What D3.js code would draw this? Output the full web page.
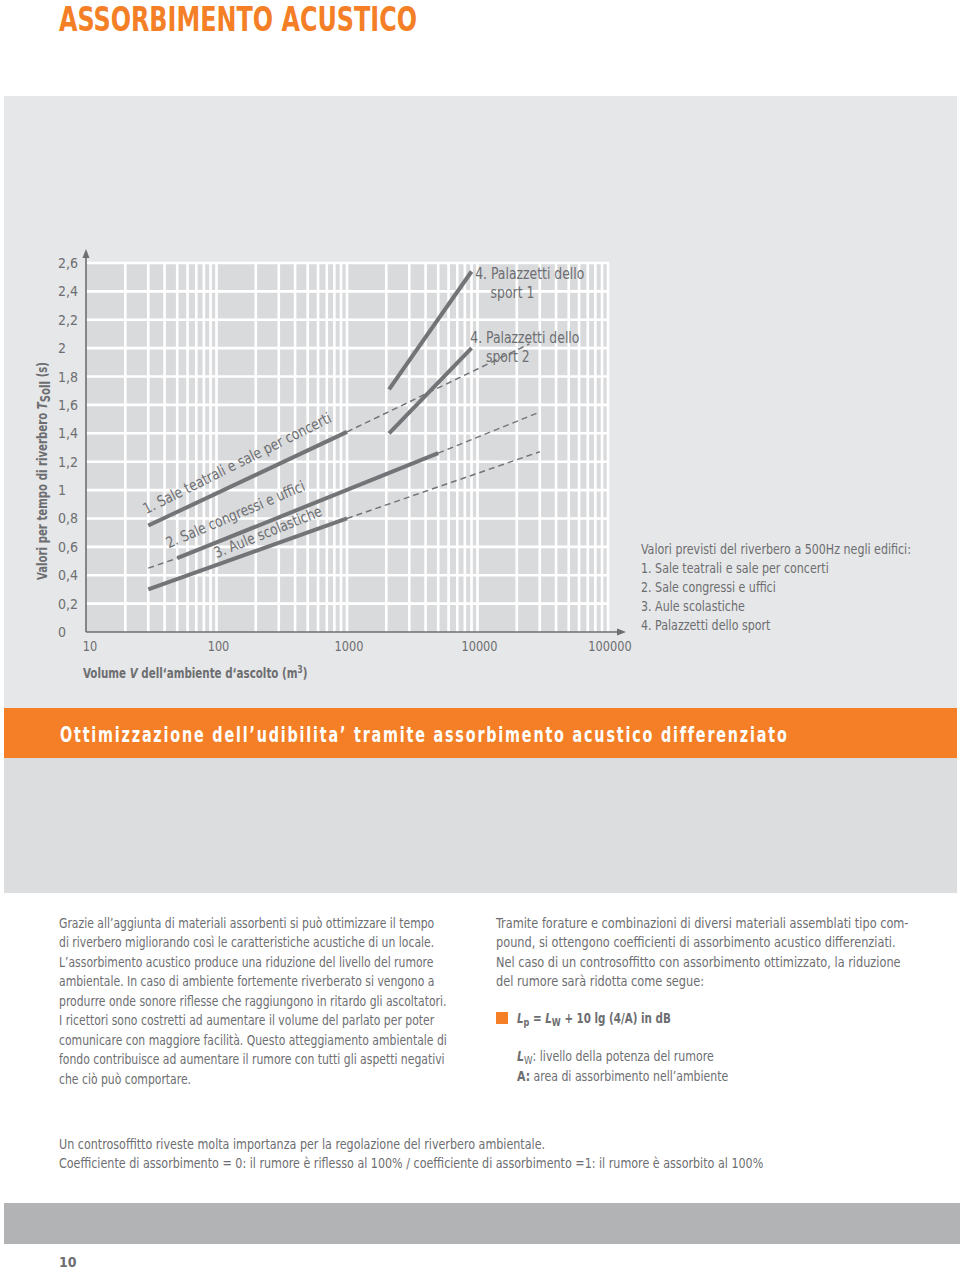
<!DOCTYPE html>
<html>
<head>
<meta charset="utf-8">
<script src="https://cdn.jsdelivr.net/npm/d3@7"></script>
<style>
  body { margin: 0; background: #fff; }
  svg { display: block; }
  text { font-family: 'Liberation Sans Narrow', 'DejaVu Sans Condensed', 'Roboto Condensed', Roboto, sans-serif; font-stretch: condensed; }
</style>
</head>
<body>
<div id="page"></div>
<script>
// chart data: [volume m3, reverberation time s]
var sale1Solid = [[30, 0.75], [1000, 1.41]];
var sale1Dashed = [[1000, 1.41], [25000, 2.03]];
var sale2Solid = [[50, 0.52], [5000, 1.26]];
var sale2DashedLow = [[30, 0.45], [50, 0.52]];
var sale2DashedHigh = [[5000, 1.26], [30000, 1.55]];
var aule3Solid = [[30, 0.30], [1000, 0.80]];
var aule3Dashed = [[1000, 0.80], [30000, 1.27]];
var sport1Solid = [[2100, 1.71], [9000, 2.54]];
var sport2Solid = [[2100, 1.40], [9000, 2.00]];

var yTicks = [0, 0.2, 0.4, 0.6, 0.8, 1, 1.2, 1.4, 1.6, 1.8, 2, 2.2, 2.4, 2.6];
var xTicks = [10, 100, 1000, 10000, 100000];

var legendLines = [
  "Valori previsti del riverbero a 500Hz negli edifici:",
  "1. Sale teatrali e sale per concerti",
  "2. Sale congressi e uffici",
  "3. Aule scolastiche",
  "4. Palazzetti dello sport"
];

var col1Lines = [
  "Grazie all\u2019aggiunta di materiali assorbenti si può ottimizzare il tempo",
  "di riverbero migliorando così le caratteristiche acustiche di un locale.",
  "L\u2019assorbimento acustico produce una riduzione del livello del rumore",
  "ambientale. In caso di ambiente fortemente riverberato si vengono a",
  "produrre onde sonore riflesse che raggiungono in ritardo gli ascoltatori.",
  "I ricettori sono costretti ad aumentare il volume del parlato per poter",
  "comunicare con maggiore facilità. Questo atteggiamento ambientale di",
  "fondo contribuisce ad aumentare il rumore con tutti gli aspetti negativi",
  "che ciò può comportare."
];

var col2Lines = [
  "Tramite forature e combinazioni di diversi materiali assemblati tipo com-",
  "pound, si ottengono coefficienti di assorbimento acustico differenziati.",
  "Nel caso di un controsoffitto con assorbimento ottimizzato, la riduzione",
  "del rumore sarà ridotta come segue:"
];

var footLines = [
  "Un controsoffitto riveste molta importanza per la regolazione del riverbero ambientale.",
  "Coefficiente di assorbimento = 0: il rumore è riflesso al 100% / coefficiente di assorbimento =1: il rumore è assorbito al 100%"
];

var grey = "#6d6e71";
var lineGrey = "#737477";
var orange = "#f47f26";

// squeeze text horizontally so the wide fallback font looks condensed
function condense(sel, k) {
  sel.each(function() {
    var w = this.getComputedTextLength();
    d3.select(this)
      .attr("textLength", w * k)
      .attr("lengthAdjust", "spacingAndGlyphs");
  });
}

// same idea for texts built from several tspans: scale the whole group
function squeezeGroup(parent, tx, ty, k, rotate) {
  var g = parent.append("g")
    .attr("transform", `translate(${tx}, ${ty})` + (rotate ? ` rotate(${rotate})` : "") + ` scale(${k}, 1)`);
  return g.append("text").attr("x", 0).attr("y", 0);
}

var svg = d3.select("#page").append("svg")
  .attr("width", 960)
  .attr("height", 1270);

// page title
svg.append("text")
  .attr("x", 59).attr("y", 31)
  .attr("fill", orange)
  .style("font-size", "33px")
  .style("font-weight", "bold")
  .attr("textLength", 358)
  .attr("lengthAdjust", "spacingAndGlyphs")
  .text("ASSORBIMENTO ACUSTICO");

// background panels
svg.append("rect").attr("x", 4).attr("y", 96).attr("width", 953).attr("height", 612).attr("fill", "#e6e7e8");
svg.append("rect").attr("x", 4).attr("y", 708).attr("width", 953).attr("height", 50).attr("fill", orange);
svg.append("rect").attr("x", 4).attr("y", 758).attr("width", 953).attr("height", 135).attr("fill", "#dcdddf");
svg.append("rect").attr("x", 4).attr("y", 1203).attr("width", 956).attr("height", 41).attr("fill", "#b1b3b5");

// scales
var x = d3.scaleLog().domain([10, 100000]).range([86, 608]);
var y = d3.scaleLinear().domain([0, 2.6]).range([632, 263]);

var chartGroup = svg.append("g");

chartGroup.append("rect")
  .attr("x", x(10)).attr("y", y(2.6))
  .attr("width", x(100000) - x(10))
  .attr("height", y(0) - y(2.6))
  .attr("fill", "#d9dadc");

// grid
chartGroup.selectAll(".vgrid")
  .data(x.ticks().filter(function(d) { return d > 10; }))
  .enter().append("line")
  .attr("class", "vgrid")
  .attr("x1", d => x(d)).attr("x2", d => x(d))
  .attr("y1", y(0)).attr("y2", y(2.6) - 1)
  .attr("stroke", "#fff")
  .attr("stroke-width", 2.6);

chartGroup.selectAll(".hgrid")
  .data(yTicks.filter(d => d > 0))
  .enter().append("line")
  .attr("class", "hgrid")
  .attr("x1", x(10)).attr("x2", x(100000) + 1)
  .attr("y1", d => y(d)).attr("y2", d => y(d))
  .attr("stroke", "#fff")
  .attr("stroke-width", 2.6);

// axes with arrows
chartGroup.append("line")
  .attr("x1", x(10)).attr("x2", x(10))
  .attr("y1", y(0)).attr("y2", 252)
  .attr("stroke", grey).attr("stroke-width", 1.6);
chartGroup.append("path")
  .attr("d", `M${x(10) - 3.5},258 L${x(10)},249 L${x(10) + 3.5},258 Z`)
  .attr("fill", grey);
chartGroup.append("line")
  .attr("x1", x(10)).attr("x2", 622)
  .attr("y1", y(0)).attr("y2", y(0))
  .attr("stroke", grey).attr("stroke-width", 1.6);
chartGroup.append("path")
  .attr("d", `M617,${y(0) - 3.5} L626,${y(0)} L617,${y(0) + 3.5} Z`)
  .attr("fill", grey);

// tick labels
chartGroup.selectAll(".ylab")
  .data(yTicks)
  .enter().append("text")
  .attr("class", "ylab")
  .attr("x", 58)
  .attr("y", d => y(d) + 5)
  .attr("fill", grey)
  .style("font-size", "14px")
  .text(d => String(+d.toFixed(1)).replace(".", ","));

var xLabels = chartGroup.selectAll(".xlab")
  .data(xTicks)
  .enter().append("text")
  .attr("class", "xlab")
  .attr("x", (d, i) => i === 0 ? x(d) + 4 : x(d) + 2)
  .attr("y", 651)
  .attr("text-anchor", "middle")
  .attr("fill", grey)
  .style("font-size", "14px")
  .text(d => d);
condense(xLabels, 0.9);

// axis titles
var yTitle = squeezeGroup(chartGroup, 47, 471, 0.81, -90)
  .attr("text-anchor", "middle")
  .attr("fill", grey)
  .style("font-size", "14px")
  .style("font-weight", "600");
yTitle.append("tspan").text("Valori per tempo di riverbero ");
yTitle.append("tspan").style("font-style", "italic").text("T");
yTitle.append("tspan").attr("dy", 3).text("Soll");
yTitle.append("tspan").attr("dy", -3).text(" (s)");

var xTitle = squeezeGroup(chartGroup, 83, 678, 0.82)
  .attr("fill", grey)
  .style("font-size", "14px")
  .style("font-weight", "bold");
xTitle.append("tspan").text("Volume ");
xTitle.append("tspan").style("font-style", "italic").text("V");
xTitle.append("tspan").text(" dell\u2018ambiente d\u2018ascolto (m");
xTitle.append("tspan").attr("dy", -5).style("font-size", "10px").text("3");
xTitle.append("tspan").attr("dy", 5).text(")");

// curves
var line = d3.line()
  .x(d => x(d[0]))
  .y(d => y(d[1]));

[sale1Dashed, sale2DashedLow, sale2DashedHigh, aule3Dashed].forEach(function(seg) {
  chartGroup.append("path")
    .attr("d", line(seg))
    .attr("fill", "none")
    .attr("stroke", lineGrey)
    .attr("stroke-width", 1.5)
    .attr("stroke-dasharray", "6,4");
});

[sale1Solid, sale2Solid, aule3Solid, sport1Solid, sport2Solid].forEach(function(seg) {
  chartGroup.append("path")
    .attr("d", line(seg))
    .attr("fill", "none")
    .attr("stroke", lineGrey)
    .attr("stroke-width", 4);
});

// labels along the curves
var curveLabels = [
  { text: "1. Sale teatrali e sale per concerti", at: [29, 0.83], angle: -26.5 },
  { text: "2. Sale congressi e uffici", at: [43, 0.59], angle: -23 },
  { text: "3. Aule scolastiche", at: [100, 0.52], angle: -22 }
];
curveLabels.forEach(function(l) {
  var t = chartGroup.append("text")
    .attr("transform", `translate(${x(l.at[0])}, ${y(l.at[1])}) rotate(${l.angle})`)
    .attr("fill", grey)
    .style("font-size", "15px")
    .text(l.text);
  condense(t, 0.91);
});

var sportLabels = chartGroup.append("g");
sportLabels.append("text").attr("x", x(9600)).attr("y", 279).text("4. Palazzetti dello");
sportLabels.append("text").attr("x", x(12600)).attr("y", 298).text("sport 1");
sportLabels.append("text").attr("x", x(8800)).attr("y", 343).text("4. Palazzetti dello");
sportLabels.append("text").attr("x", x(11600)).attr("y", 362).text("sport 2");
sportLabels.selectAll("text").attr("fill", grey).style("font-size", "15px");
condense(sportLabels.selectAll("text"), 0.92);

// legend
var legend = svg.selectAll(".legend")
  .data(legendLines)
  .enter().append("text")
  .attr("class", "legend")
  .attr("x", 641)
  .attr("y", (d, i) => 554 + i * 19)
  .attr("fill", grey)
  .style("font-size", "14px")
  .text(d => d);
condense(legend, 0.88);

// band heading: measure its natural width, then squeeze it to the band
var heading = squeezeGroup(svg, 60, 742, 1)
  .attr("fill", "#fff")
  .style("font-size", "22px")
  .style("font-weight", "bold")
  .style("letter-spacing", "2.5px")
  .text("Ottimizzazione dell\u2019udibilita\u2019 tramite assorbimento acustico differenziato");
var headW = heading.node().getComputedTextLength();
d3.select(heading.node().parentNode)
  .attr("transform", `translate(60, 742) scale(${729 / headW}, 1)`);

// body text
var col1 = svg.selectAll(".col1")
  .data(col1Lines)
  .enter().append("text")
  .attr("class", "col1")
  .attr("x", 59)
  .attr("y", (d, i) => 928 + i * 19.45)
  .attr("fill", grey)
  .style("font-size", "14px")
  .text(d => d);
condense(col1, 0.86);

var col2 = svg.selectAll(".col2")
  .data(col2Lines)
  .enter().append("text")
  .attr("class", "col2")
  .attr("x", 496)
  .attr("y", (d, i) => 928 + i * 19.45)
  .attr("fill", grey)
  .style("font-size", "14px")
  .text(d => d);
condense(col2, 0.9);

svg.append("rect").attr("x", 496).attr("y", 1012).attr("width", 12).attr("height", 12).attr("fill", orange);

var formula = squeezeGroup(svg, 517, 1023, 0.82)
  .attr("fill", grey)
  .style("font-size", "14px")
  .style("font-weight", "bold");
formula.append("tspan").style("font-style", "italic").text("L");
formula.append("tspan").attr("dy", 3).style("font-size", "11px").text("p");
formula.append("tspan").attr("dy", -3).text(" = ");
formula.append("tspan").style("font-style", "italic").text("L");
formula.append("tspan").attr("dy", 3).style("font-size", "11px").text("W");
formula.append("tspan").attr("dy", -3).text(" + 10 lg (4/A) in dB");

var lw = squeezeGroup(svg, 517, 1061, 0.875)
  .attr("fill", grey)
  .style("font-size", "14px");
lw.append("tspan").style("font-style", "italic").style("font-weight", "bold").text("L");
lw.append("tspan").attr("dy", 3).style("font-size", "11px").text("W");
lw.append("tspan").attr("dy", -3).text(": livello della potenza del rumore");

var aa = squeezeGroup(svg, 517, 1080.5, 0.87)
  .attr("fill", grey)
  .style("font-size", "14px");
aa.append("tspan").style("font-weight", "bold").text("A:");
aa.append("tspan").text(" area di assorbimento nell\u2019ambiente");

var foot = svg.selectAll(".foot")
  .data(footLines)
  .enter().append("text")
  .attr("class", "foot")
  .attr("x", 59)
  .attr("y", (d, i) => 1149 + i * 19)
  .attr("fill", grey)
  .style("font-size", "14px")
  .text(d => d);
condense(foot, 0.885);

svg.append("text")
  .attr("x", 59).attr("y", 1267)
  .attr("fill", grey)
  .style("font-size", "14px")
  .style("font-weight", "bold")
  .text("10");
</script>
</body>
</html>
